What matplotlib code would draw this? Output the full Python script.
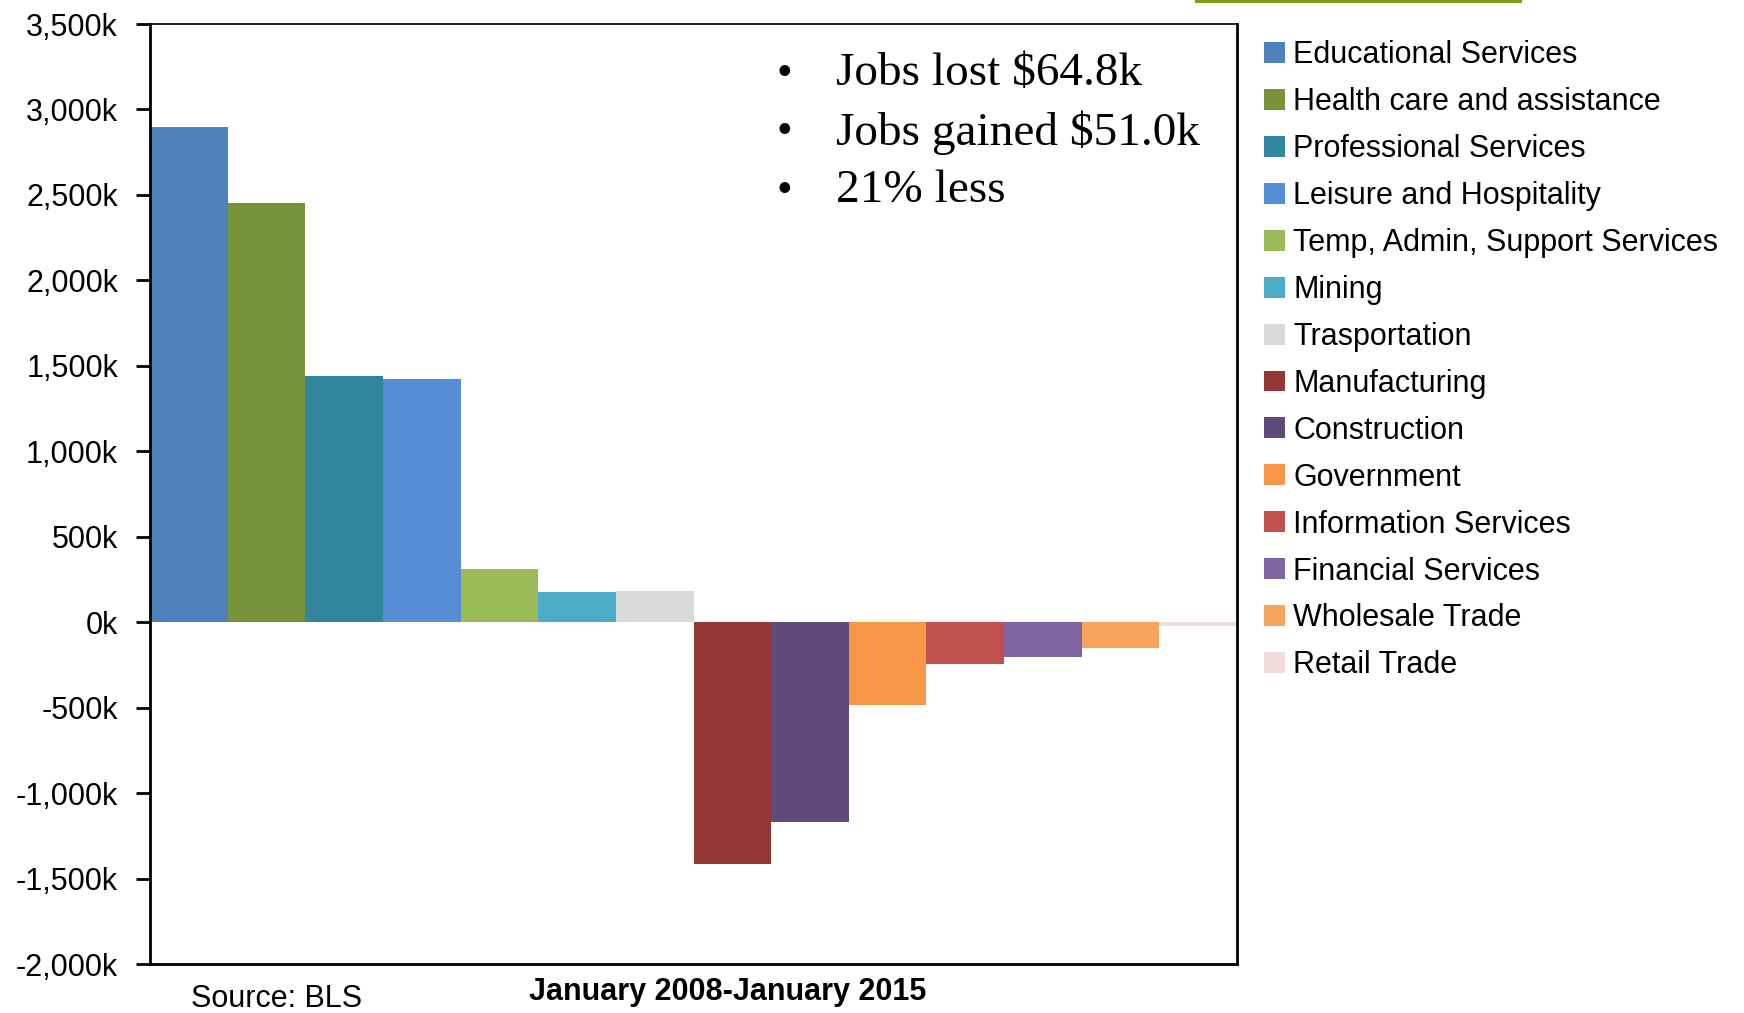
import matplotlib
matplotlib.use("Agg")
import matplotlib.pyplot as plt
from matplotlib.ticker import FuncFormatter
from matplotlib.lines import Line2D

categories = ["Educational Services", "Health care and assistance", "Professional Services",
              "Leisure and Hospitality", "Temp, Admin, Support Services", "Mining",
              "Trasportation", "Manufacturing", "Construction", "Government",
              "Information Services", "Financial Services", "Wholesale Trade", "Retail Trade"]
values = [2900, 2450, 1440, 1425, 310, 175, 182, -1413, -1172, -482, -247, -205, -152, -22]
colors = ["#4F81BD", "#77933C", "#31859C", "#558ED5", "#9BBB59", "#4BACC6", "#D9D9D9",
          "#953735", "#604A7B", "#F79646", "#C0504D", "#8064A2", "#F9A45C", "#F2DCDB"]
yticks = list(range(-2000, 3501, 500))
notes = ["Jobs lost $64.8k", "Jobs gained $51.0k", "21% less"]

plt.rcParams['font.family'] = ["Liberation Sans", "DejaVu Sans"]

W, H = 1744, 1013
fig = plt.figure(figsize=(W / 100, H / 100), dpi=100)
ax = fig.add_axes([150 / W, 1 - 964 / H, 1087 / W, 940 / H])

bars = []
for i, (v, c) in enumerate(zip(values, colors)):
    bars.append(ax.bar(i, v, width=1.0, color=c, linewidth=0, label=categories[i]))

ax.set_xlim(-0.5, len(values) - 0.5)
ax.set_ylim(-2000, 3500)
ax.set_yticks(yticks)
ax.yaxis.set_major_formatter(FuncFormatter(lambda v, p: f"{int(v):,}k"))
ax.tick_params(axis='y', direction='out', length=10, width=2, labelsize=22, pad=13)
ax.set_xticks([])
for s in ["left", "bottom", "right"]:
    ax.spines[s].set_linewidth(2)
ax.spines["top"].set_linewidth(1.2)

# bullet notes
for k, t in enumerate(notes):
    y = 1 - (74 + k * 58.5) / H
    fig.text(776 / W, y, "\u2022", fontsize=32, family="Liberation Serif", va="center")
    fig.text(836 / W, y, t, fontsize=34, family="Liberation Serif", va="center")

fig.text(191 / W, 1 - 999 / H, "Source: BLS", fontsize=22, va="center")
fig.text(728 / W, 1 - 992 / H, "January 2008-January 2015", fontsize=22,
         fontweight="bold", ha="center", va="center")

# decorative green line at very top
fig.add_artist(Line2D([1197 / W, 1520 / W], [1 - 1 / H, 1 - 1 / H], color="#7F9F1A",
                      linewidth=3, transform=fig.transFigure))

fig.legend(handles=[b.patches[0] for b in bars], labels=categories,
           loc="upper left", bbox_to_anchor=(1264 / W, 1 - 40 / H),
           frameon=False, fontsize=22, handlelength=0.68, handleheight=0.68,
           handletextpad=0.28, labelspacing=0.555, borderpad=0, borderaxespad=0)

fig.savefig("out.png", dpi=100)
